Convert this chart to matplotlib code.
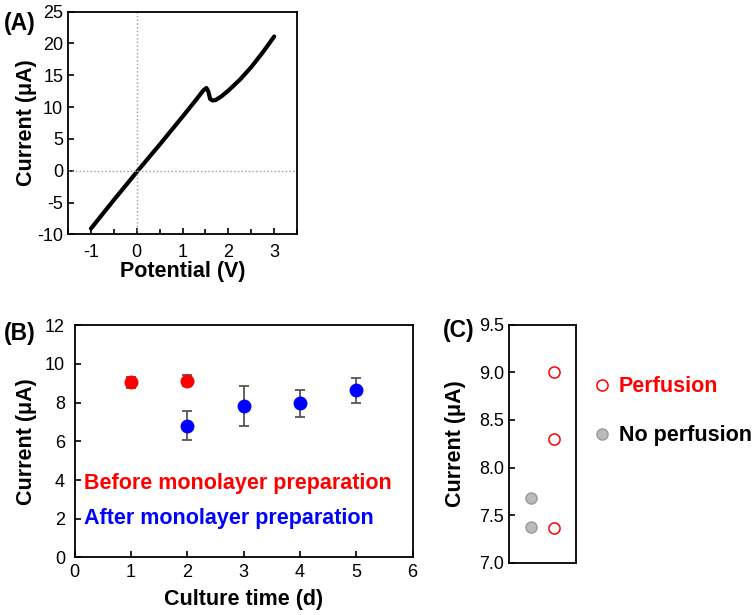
import numpy as np
import matplotlib.pyplot as plt
from matplotlib.ticker import MultipleLocator

plt.rcParams['font.family'] = ['Liberation Sans', 'DejaVu Sans']
plt.rcParams['axes.unicode_minus'] = False

# (A) current-potential curve
potential = [-1.0, -0.5, 0.0, 0.5, 1.0, 1.3, 1.45, 1.52, 1.56, 1.6, 1.65, 1.72,
             1.85, 2.0, 2.25, 2.5, 2.75, 3.0]
current_a = [-9.1, -4.6, -0.2, 4.1, 8.5, 11.2, 12.6, 13.0, 12.5, 11.3, 11.05, 11.1,
             11.7, 12.6, 14.3, 16.3, 18.6, 21.1]

# (B) current vs culture time
days_before = [1, 2]
cur_before = [9.05, 9.12]
err_before = [0.28, 0.28]
days_after = [2, 3, 4, 5]
cur_after = [6.81, 7.83, 7.95, 8.64]
err_after = [0.75, 1.03, 0.7, 0.65]

# (C) perfusion vs no perfusion
perf_vals = [9.0, 8.30, 7.36]
noperf_vals = [7.68, 7.38]

fig = plt.figure(figsize=(7.56, 6.15), dpi=100)

tick_kw = dict(direction='in', labelsize=13, width=1.2, length=4)
lab_kw = dict(fontsize=15.5, fontweight='bold')
panel_kw = dict(fontsize=16.5, fontweight='bold', va='center')

# ---- panel A
ax1 = fig.add_axes([0.090, 0.619, 0.303, 0.362])
ax1.plot(potential, current_a, color='black', lw=3, solid_capstyle='round')
ax1.axhline(0, color='#999999', ls=':', lw=1)
ax1.axvline(0, color='#999999', ls=':', lw=1)
ax1.set_xlim(-1.5, 3.5)
ax1.set_ylim(-10, 25)
ax1.xaxis.set_major_locator(MultipleLocator(1))
ax1.xaxis.set_minor_locator(MultipleLocator(0.5))
ax1.yaxis.set_major_locator(MultipleLocator(5))
ax1.tick_params(which='both', **tick_kw)
ax1.tick_params(axis='x', which='both', pad=7)
ax1.tick_params(which='minor', length=3.5)
ax1.set_xlabel('Potential (V)', **lab_kw, labelpad=0)
ax1.set_ylabel('Current (μA)', **lab_kw, labelpad=0)
fig.text(0.005, 0.9626, '(A)', **panel_kw)

# ---- panel B
ax2 = fig.add_axes([0.0988, 0.0935, 0.447, 0.378])
ax2.errorbar(days_before, cur_before, yerr=err_before, fmt='o', color='red',
             ms=9, ecolor='#555555', elinewidth=1.3, capsize=3.5, capthick=1.3, zorder=3)
ax2.errorbar(days_after, cur_after, yerr=err_after, fmt='o', color='blue',
             ms=9, ecolor='#555555', elinewidth=1.3, capsize=3.5, capthick=1.3, zorder=3)
ax2.set_xlim(0, 6)
ax2.set_ylim(0, 12)
ax2.xaxis.set_major_locator(MultipleLocator(1))
ax2.yaxis.set_major_locator(MultipleLocator(2))
ax2.tick_params(**tick_kw)
ax2.tick_params(axis='x', pad=4.5)
ax2.tick_params(axis='y', pad=7)
ax2.set_xlabel('Culture time (d)', **lab_kw, labelpad=6)
ax2.set_ylabel('Current (μA)', **lab_kw, labelpad=6)
ax2.text(0.16, 3.8, 'Before monolayer preparation', color='red',
         fontsize=15.5, fontweight='bold', va='center')
ax2.text(0.16, 2.0, 'After monolayer preparation', color='blue',
         fontsize=15.5, fontweight='bold', va='center')
fig.text(0.005, 0.4585, '(B)', **panel_kw)

# ---- panel C
ax3 = fig.add_axes([0.673, 0.085, 0.089, 0.387])
h1, = ax3.plot([2] * len(perf_vals), perf_vals, 'o', ms=8, mfc='white',
               mec='red', mew=1.1, ls='none')
h2, = ax3.plot([1] * len(noperf_vals), noperf_vals, 'o', ms=8, mfc='#bbbbbb',
               mec='#999999', mew=1.0, ls='none')
ax3.set_xlim(0, 3)
ax3.set_ylim(7.0, 9.5)
ax3.yaxis.set_major_locator(MultipleLocator(0.5))
ax3.yaxis.set_major_formatter(plt.FormatStrFormatter('%.1f'))
ax3.set_xticks([])
ax3.tick_params(**tick_kw)
ax3.set_ylabel('Current (μA)', **lab_kw, labelpad=9)
leg = ax3.legend([h1, h2], ['Perfusion', 'No perfusion'], loc='center left',
                 bbox_to_anchor=(0.776, 0.331), bbox_transform=fig.transFigure,
                 borderaxespad=0, frameon=False, handlelength=0.6,
                 handletextpad=0.5, labelspacing=1.3,
                 prop={'weight': 'bold', 'size': 15.5},
                 labelcolor=['red', 'black'])
fig.text(0.586, 0.4618, '(C)', **panel_kw)

for ax in (ax1, ax2, ax3):
    for s in ax.spines.values():
        s.set_linewidth(1.3)

fig.savefig('out.png', dpi=100)
